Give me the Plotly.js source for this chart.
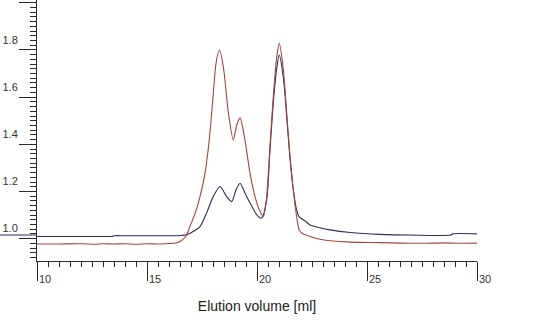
<!DOCTYPE html>
<html>
<head>
<meta charset="utf-8">
<script src="https://cdn.plot.ly/plotly-3.0.1.min.js"></script>
<style>html,body{margin:0;padding:0;background:#fff;}#chart{width:540px;height:332px;}</style>
</head>
<body>
<div id="chart"></div>
<script>
// Elution volume (ml) and absorbance-like signal for two runs
const redX = [10, 11, 12, 12.6, 13, 13.5, 14, 14.5, 15, 15.5, 16, 16.3, 16.5, 16.65, 16.8, 16.95, 17.2, 17.41, 17.64, 17.83, 17.99, 18.14, 18.29, 18.47, 18.70, 18.92, 19.08, 19.23, 19.45, 19.68, 19.91, 20.14, 20.29, 20.44, 20.59, 20.74, 20.90, 21.01, 21.20, 21.35, 21.50, 21.65, 21.80, 21.92, 22.09, 22.41, 22.86, 23.32, 24.23, 25.59, 26.5, 27.5, 28.5, 29.2, 30];
const redY = [0.977, 0.977, 0.978, 0.976, 0.978, 0.977, 0.978, 0.976, 0.978, 0.977, 0.979, 0.981, 0.988, 0.998, 1.014, 1.051, 1.110, 1.178, 1.279, 1.419, 1.588, 1.745, 1.800, 1.729, 1.533, 1.419, 1.482, 1.512, 1.419, 1.279, 1.178, 1.115, 1.094, 1.178, 1.390, 1.602, 1.772, 1.828, 1.715, 1.533, 1.348, 1.207, 1.094, 1.037, 1.020, 1.009, 0.997, 0.991, 0.985, 0.983, 0.981, 0.980, 0.982, 0.980, 0.981];

const blackX = [10, 11, 12, 13, 13.4, 13.5, 14, 15, 16, 16.5, 16.8, 17.1, 17.41, 17.71, 18.01, 18.32, 18.62, 18.85, 19.05, 19.23, 19.45, 19.68, 19.99, 20.21, 20.44, 20.59, 20.74, 20.90, 21.01, 21.20, 21.35, 21.50, 21.65, 21.80, 21.92, 22.18, 22.41, 22.86, 23.32, 24.23, 25.59, 27, 28.8, 28.9, 30];
const blackY = [1.009, 1.009, 1.009, 1.009, 1.009, 1.012, 1.012, 1.012, 1.012, 1.013, 1.016, 1.030, 1.051, 1.109, 1.178, 1.221, 1.178, 1.157, 1.207, 1.235, 1.194, 1.152, 1.101, 1.087, 1.164, 1.376, 1.575, 1.724, 1.779, 1.681, 1.516, 1.342, 1.207, 1.122, 1.092, 1.075, 1.058, 1.046, 1.037, 1.026, 1.018, 1.015, 1.015, 1.020, 1.020];

const xTickVals = [10, 15, 20, 25, 30];
const xTickText = ['10', '15', '20', '25', '30'];
const xMidVals = [12.5, 17.5, 22.5, 27.5];
const yTickVals = [1.0, 1.2, 1.4, 1.6, 1.8, 2.0];
const yTickText = ['1.0', '1.2', '1.4', '1.6', '1.8', ''];
const yMidVals = [0.9, 1.1, 1.3, 1.5, 1.7, 1.9];
const xTitle = 'Elution volume [ml]';

const yRange = [0.905, 2.012];
const xRange = [10, 30];
const axisColor = '#2a2a2a';
const fontFam = 'Liberation Sans, Arial, sans-serif';

const traces = [
  {x: blackX, y: blackY, mode: 'lines', line: {color: '#2b2f55', width: 1.1, shape: 'spline', smoothing: 0.7}, hoverinfo: 'skip', showlegend: false},
  {x: redX, y: redY, mode: 'lines', line: {color: '#a4443f', width: 1.1, shape: 'spline', smoothing: 0.7}, hoverinfo: 'skip', showlegend: false}
];

const layout = {
  width: 540, height: 332,
  margin: {l: 37, r: 63, t: 0, b: 71},
  paper_bgcolor: '#ffffff', plot_bgcolor: '#ffffff',
  showlegend: false,
  xaxis: {
    range: xRange, showgrid: false, zeroline: false,
    showline: true, linecolor: axisColor, linewidth: 1,
    ticks: 'outside', tickvals: xTickVals, ticktext: xTickText, ticklen: 19, tickcolor: axisColor, tickwidth: 1,
    ticklabelposition: 'outside', ticklabelshift: 8, ticklabelstandoff: -11,
    tickfont: {family: fontFam, size: 11, color: '#333'},
    minor: {dtick: 0.5, ticks: 'outside', ticklen: 5, tickcolor: axisColor, tickwidth: 1, showgrid: false},
    title: {text: xTitle, font: {family: fontFam, size: 14, color: '#222'}, standoff: 16}
  },
  xaxis2: {
    overlaying: 'x', anchor: 'y', side: 'bottom', range: xRange,
    showgrid: false, zeroline: false, showline: false,
    ticks: 'outside', tickvals: xMidVals, ticklen: 11, tickcolor: axisColor, tickwidth: 1, showticklabels: false
  },
  yaxis: {
    range: yRange, showgrid: false, zeroline: false,
    showline: true, linecolor: axisColor, linewidth: 1,
    ticks: 'outside', tickvals: yTickVals, ticktext: yTickText, ticklen: 17, tickcolor: axisColor, tickwidth: 1,
    ticklabelposition: 'outside', ticklabelshift: -10, ticklabelstandoff: -1,
    tickfont: {family: fontFam, size: 11, color: '#333'},
    minor: {dtick: 0.02, tick0: 0.9, ticks: 'outside', ticklen: 6, tickcolor: axisColor, tickwidth: 1, showgrid: false}
  },
  yaxis2: {
    overlaying: 'y', anchor: 'x', side: 'left', range: yRange,
    showgrid: false, zeroline: false, showline: false,
    ticks: 'outside', tickvals: yMidVals, ticklen: 11, tickcolor: axisColor, tickwidth: 1, showticklabels: false
  },
  yaxis3: {
    overlaying: 'y', anchor: 'x', side: 'right', range: yRange,
    showgrid: false, zeroline: false, showline: true, linecolor: axisColor, linewidth: 1,
    ticks: '', showticklabels: false
  },
  shapes: [
    {type: 'line', xref: 'paper', yref: 'y', x0: -37 / 440, x1: 0, y0: blackY[0] + 0.006, y1: blackY[0] + 0.006, line: {color: '#2b2f55', width: 1.1}}
  ]
};

Plotly.newPlot('chart', traces, layout, {staticPlot: true, displayModeBar: false});
</script>
</body>
</html>
